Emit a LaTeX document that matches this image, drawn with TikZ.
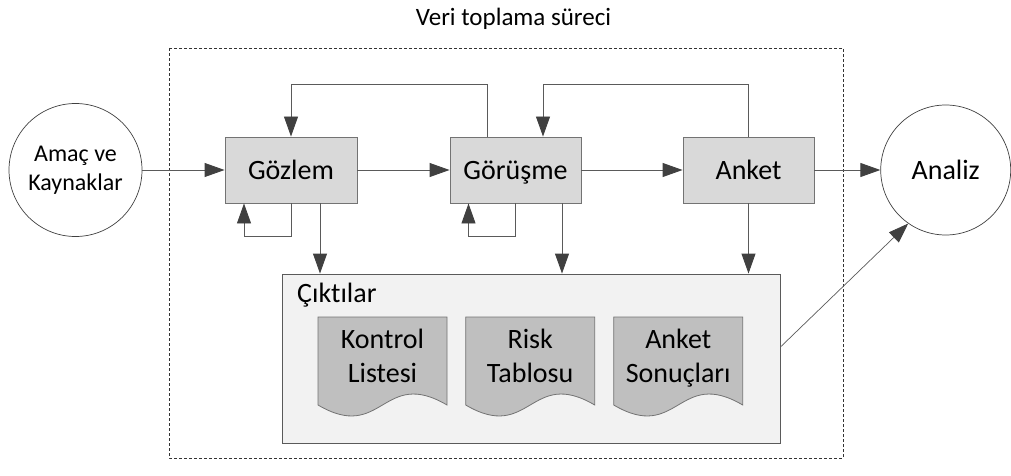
\documentclass[tikz,border=0pt]{standalone}
\usepackage{fontspec}
\setmainfont{Carlito}[Ligatures={NoCommon}]
\usetikzlibrary{arrows.meta}
\definecolor{boxfill}{HTML}{D9D9D9}
\definecolor{docfill}{HTML}{BFBFBF}
\definecolor{outfill}{HTML}{F2F2F2}
\definecolor{linegray}{HTML}{5A5A5A}
\definecolor{tipgray}{HTML}{404040}
\tikzset{
  big/.style={font=\fontsize{28}{34}\selectfont},
  small/.style={font=\fontsize{24}{29}\selectfont},
  procbox/.style={rectangle, draw=gray!90!black, fill=boxfill, line width=0.9pt, minimum height=66pt, big, inner sep=0pt, text height=22pt, text depth=4pt},
  endcircle/.style={circle, draw=tipgray, line width=0.7pt, inner sep=0pt, align=center},
  arr/.style={draw=linegray, line width=0.9pt, -{Triangle[length=20pt,width=14pt,fill=tipgray,color=tipgray]}},
  docsh/.style={draw=gray!90!black, fill=docfill, line width=0.8pt},
  doctext/.style={big, align=center, inner sep=0pt},
}
\begin{document}
\begin{tikzpicture}[x=1pt,y=-1pt]
\useasboundingbox (0,0) rectangle (1011,476);
% dashed frame
\draw[black!80, line width=0.7pt, dash pattern=on 3pt off 2pt] (169,48) rectangle (843,458);
\node[font=\fontsize{25}{30}\selectfont, anchor=base, inner sep=0pt] (title) at (513.5,26) {Veri toplama süreci};
% outputs box
\node[rectangle, draw=linegray, fill=outfill, line width=0.9pt, minimum width=498pt, minimum height=169pt, inner sep=0pt] (cikti) at (531,358.5) {};
\node[big, anchor=base west, inner sep=0pt] (ciktilabel) at (297,302) {Çıktılar};
% documents
\draw[docsh] (318,405) -- (318,317) -- (447,317) -- (447,405) .. controls (382.5,367) and (382.5,443) .. (318,405) -- cycle;
\draw[docsh] (465.7,405) -- (465.7,317) -- (594.7,317) -- (594.7,405) .. controls (530.2,367) and (530.2,443) .. (465.7,405) -- cycle;
\draw[docsh] (613.7,405) -- (613.7,317) -- (742.7,317) -- (742.7,405) .. controls (678.2,367) and (678.2,443) .. (613.7,405) -- cycle;
\node[doctext] (kl) at (382.5,356) {Kontrol\\Listesi};
\node[doctext] (rt) at (530.2,356) {Risk\\Tablosu};
\node[doctext] (as) at (678.2,358) {Anket\\Sonuçları};
% main nodes
\node[endcircle, minimum size=133pt, small] (amac) at (75.5,170) {Amaç ve\\Kaynaklar};
\node[procbox, minimum width=132pt] (gozlem) at (291,170) {Gözlem};
\node[procbox, minimum width=131pt] (gorusme) at (515.5,170) {Görüşme};
\node[procbox, minimum width=131pt] (anket) at (748.5,170) {Anket};
\node[endcircle, minimum size=130pt, big] (analiz) at (945.7,170) {Analiz};
% main flow
\draw[arr] (amac) -- (gozlem);
\draw[arr] (gozlem) -- (gorusme);
\draw[arr] (gorusme) -- (anket);
\draw[arr] (anket) -- (analiz);
% feedback loops
\draw[arr] ([xshift=-28pt]gorusme.north) -- ++(0,-52) -| (gozlem.north);
\draw[arr] (anket.north) -- ++(0,-52) -| ([xshift=27.5pt]gorusme.north);
% self loops
\draw[arr] (gozlem.south) -- ++(0,33) -| ([xshift=-47pt]gozlem.south);
\draw[arr] (gorusme.south) -- ++(0,33) -| ([xshift=-47pt]gorusme.south);
% down to outputs
\draw[arr] ([xshift=29pt]gozlem.south) -- ([xshift=29pt]gozlem.south |- cikti.north);
\draw[arr] ([xshift=46.5pt]gorusme.south) -- ([xshift=46.5pt]gorusme.south |- cikti.north);
\draw[arr] (anket.south) -- (anket.south |- cikti.north);
% outputs to analysis
\draw[arr, line width=0.7pt] ([yshift=11.5pt]cikti.east) -- (analiz.235);
\end{tikzpicture}
\end{document}
